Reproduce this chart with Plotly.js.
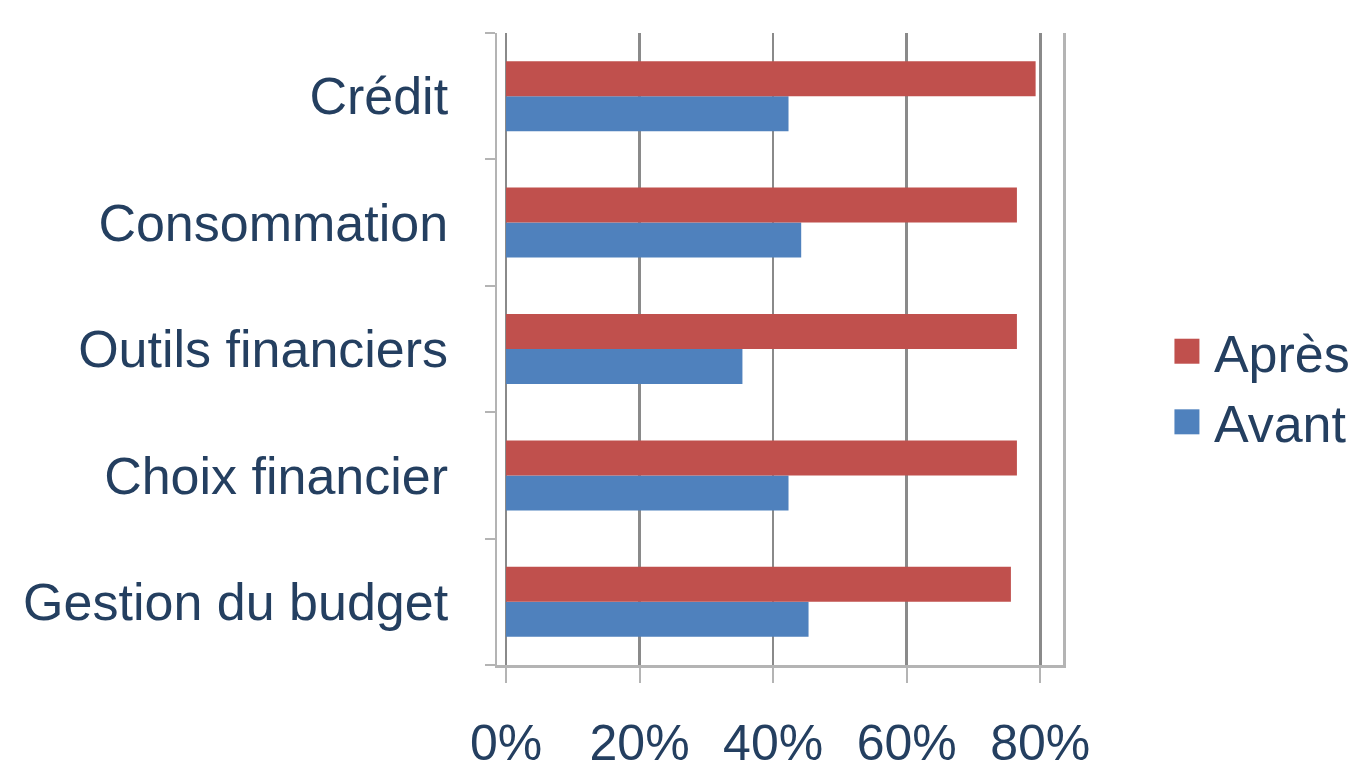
<!DOCTYPE html>
<html>
<head>
<meta charset="utf-8">
<script src="https://cdn.plot.ly/plotly-3.0.1.min.js"></script>
<style>html,body{margin:0;padding:0;background:#fff;}#chart{width:1356px;height:770px;}</style>
</head>
<body>
<div id="chart"></div>
<script>
const categories = ["Gestion du budget", "Choix financier", "Outils financiers", "Consommation", "Crédit"];
const avant = [45.3, 42.3, 35.4, 44.2, 42.3];
const apres = [75.6, 76.5, 76.5, 76.5, 79.3];
const tickValues = [0, 20, 40, 60, 80];
const tickLabels = ["0%", "20%", "40%", "60%", "80%"];

const textColor = "#243F60";
const fontFam = "Liberation Sans, Arial, sans-serif";

const traces = [
  {type: "bar", orientation: "h", name: "Avant", y: categories, x: avant,
   marker: {color: "#4F81BD"}, hoverinfo: "x+y"},
  {type: "bar", orientation: "h", name: "Après", y: categories, x: apres,
   marker: {color: "#C0504D"}, hoverinfo: "x+y"}
];

const layout = {
  width: 1356, height: 770,
  margin: {l: 497, r: 293, t: 33, b: 105, autoexpand: false},
  paper_bgcolor: "#fff", plot_bgcolor: "#fff",
  barmode: "group", bargap: 0.446, bargroupgap: 0,
  font: {family: fontFam, color: textColor, size: 52},
  xaxis: {
    range: [-1.35, 83.4], tickvals: tickValues, ticktext: tickLabels,
    automargin: false,
    showgrid: true, gridcolor: "#8A8A8A", gridwidth: 2.5, zeroline: false,
    showline: true, linecolor: "#B4B4B4", linewidth: 2.5,
    ticks: "outside", ticklen: 15, tickcolor: "#B4B4B4", tickwidth: 2,
    ticklabelstandoff: 17,
    tickfont: {size: 50, color: textColor, family: fontFam}
  },
  yaxis: {
    type: "category", categoryorder: "array", categoryarray: categories,
    automargin: false,
    showgrid: false, zeroline: false,
    showline: true, mirror: true, linecolor: "#B4B4B4", linewidth: 2.5,
    ticks: "outside", tickson: "boundaries", ticklen: 10, tickcolor: "#B4B4B4", tickwidth: 2,
    ticklabelstandoff: 36,
    tickfont: {size: 52, color: textColor, family: fontFam}
  },
  legend: {
    x: 1.196, xanchor: "left", y: 0.44, yanchor: "middle",
    traceorder: "reversed",
    font: {size: 52, color: textColor, family: fontFam},
    itemwidth: 30, bgcolor: "rgba(0,0,0,0)"
  },
  showlegend: true
};

Plotly.newPlot("chart", traces, layout, {displayModeBar: false, staticPlot: true}).then(function () {
  document.querySelectorAll(".legend .legendpoints path").forEach(function (p) {
    p.removeAttribute("clip-path");
    p.setAttribute("d", "M5.5,12.5H-19.5V-12.5H5.5Z");
  });
});
</script>
</body>
</html>
